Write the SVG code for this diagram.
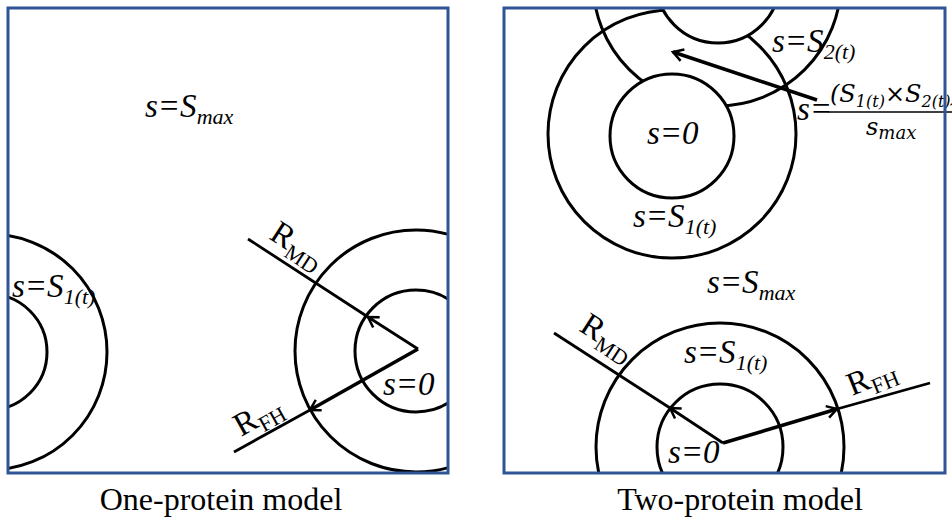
<svg xmlns="http://www.w3.org/2000/svg" width="952" height="524" viewBox="0 0 952 524">
<style>
.c{fill:none;stroke:#000;stroke-width:3}
.cw{fill:#fff;stroke:#000;stroke-width:3}
.ln{stroke:#000;stroke-width:2.8;fill:none}
.th{stroke:#000;stroke-width:3.6;fill:none}
.frame{fill:none;stroke:#2F5597;stroke-width:3}
.lb{font-family:"Liberation Serif",serif;font-style:italic;font-size:33px;fill:#000}
.sb{font-size:22px}
.rl{font-family:"Liberation Serif",serif;font-size:33px;fill:#000}
.fm{font-family:"DejaVu Serif",serif;font-style:italic;font-size:24px;fill:#000}
.fs{font-size:16px}
.cap{font-family:"Liberation Serif",serif;font-size:32px;fill:#000}
</style>
<defs>
<marker id="ah" viewBox="-12 -8 14 16" refX="0" refY="0" markerWidth="14" markerHeight="16" markerUnits="userSpaceOnUse" orient="auto">
<path d="M-10,-6 L0,0 L-10,6" fill="none" stroke="#000" stroke-width="2.5"/>
</marker>
<clipPath id="cl"><rect x="8" y="8" width="440" height="465"/></clipPath>
<clipPath id="cr"><rect x="504" y="8" width="441" height="465"/></clipPath>
</defs>
<rect width="952" height="524" fill="#fff"/>

<g id="left-panel">
<g clip-path="url(#cl)">
<g id="left-cell-a">
<circle class="c" cx="-11" cy="352" r="118"/>
<circle class="c" cx="-11" cy="352" r="58"/>
</g>
<g id="left-cell-b">
<circle class="c" cx="416" cy="351" r="121"/>
<circle class="c" cx="416" cy="351" r="61"/>
</g>
</g>
<text class="lb" x="145" y="117">s=S<tspan class="sb" dy="7">max</tspan></text>
<text class="lb" x="12" y="297">s=S<tspan class="sb" dy="7">1(t)</tspan></text>
<text class="lb" x="383" y="395">s=0</text>
<text class="rl" transform="translate(268,238) rotate(33)">R<tspan class="sb" dy="7">MD</tspan></text>
<text class="rl" transform="translate(241,437) rotate(-29)">R<tspan class="sb" dy="7">FH</tspan></text>
<rect class="frame" x="8" y="8" width="440" height="465"/>
</g>

<g id="right-panel">
<g clip-path="url(#cr)">
<g id="right-top-cells">
<circle class="c" cx="672" cy="134" r="124"/>
<circle class="c" cx="717" cy="-18" r="124"/>
<circle class="cw" cx="672" cy="136" r="62"/>
<circle class="cw" cx="718" cy="-19" r="62"/>
</g>
<g id="right-bottom-cell">
<circle class="c" cx="720" cy="447" r="124"/>
<circle class="c" cx="720" cy="447" r="63"/>
</g>
</g>
<text class="lb" x="772" y="52">s=S<tspan class="sb" dy="7">2(t)</tspan></text>
<text class="lb" x="647" y="144">s=0</text>
<text class="lb" x="633" y="227">s=S<tspan class="sb" dy="7">1(t)</tspan></text>
<text class="lb" x="707" y="293">s=S<tspan class="sb" dy="7">max</tspan></text>
<text class="lb" x="684" y="363">s=S<tspan class="sb" dy="7">1(t)</tspan></text>
<text class="lb" x="668" y="463">s=0</text>
<text class="rl" transform="translate(578,330) rotate(33)">R<tspan class="sb" dy="7">MD</tspan></text>
<text class="rl" transform="translate(852,396) rotate(-22)">R<tspan class="sb" dy="7">FH</tspan></text>
<g id="formula">
<text class="lb" x="797" y="120">s=</text>
<text class="fm" x="830" y="102">(S<tspan class="fs" dy="5">1(t)</tspan><tspan dy="-5">×S</tspan><tspan class="fs" dy="5">2(t)</tspan><tspan dy="-5">)</tspan></text>
<line x1="828" y1="112" x2="952" y2="112" stroke="#000" stroke-width="1.5"/>
<text class="fm" x="866" y="135">s<tspan font-size="18" dy="4">max</tspan></text>
</g>
<rect class="frame" x="504" y="8" width="441" height="465"/>
</g>

<g id="connectors">
<path class="ln" d="M418,349 L368,317" marker-end="url(#ah)"/>
<path class="ln" d="M368,317 L248,239"/>
<path class="th" d="M418,349 L310,410" marker-end="url(#ah)"/>
<path class="ln" d="M310,410 L234,452"/>
<path class="th" d="M817,100 L673,52" marker-end="url(#ah)"/>
<path class="ln" d="M723,443 L670,408" marker-end="url(#ah)"/>
<path class="ln" d="M670,408 L554,333"/>
<path class="th" d="M723,443 L837,409" marker-end="url(#ah)"/>
<path class="ln" d="M837,409 L930,383"/>
</g>

<text class="cap" x="221" y="510" text-anchor="middle">One-protein model</text>
<text class="cap" x="740" y="510" text-anchor="middle">Two-protein model</text>
</svg>
